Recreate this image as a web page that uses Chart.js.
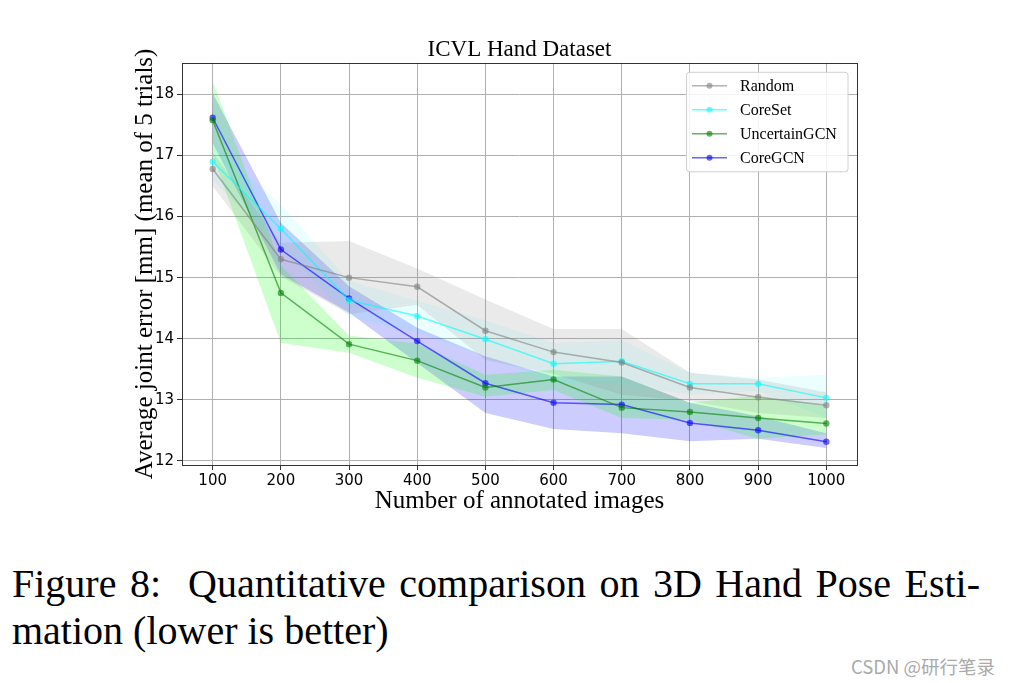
<!DOCTYPE html>
<html><head><meta charset="utf-8">
<script src="https://cdn.jsdelivr.net/npm/chart.js@4.4.1/dist/chart.umd.min.js"></script>
<style>
html,body{margin:0;padding:0;background:#fff;width:1012px;height:683px;overflow:hidden;}
#wrap{position:relative;width:1012px;height:683px;}
canvas{position:absolute;left:0;top:0;}
#cap{position:absolute;left:12px;top:560px;font-family:"Liberation Serif","Times New Roman",serif;font-size:40px;line-height:47px;color:#000;white-space:nowrap;}
#cap .l1{word-spacing:3.5px;}
#wm{position:absolute;right:17px;top:653px;font-family:"Noto Sans CJK SC","Noto Sans",sans-serif;font-size:18.5px;color:#aaaaaa;}
</style></head><body>
<div id="wrap"><canvas id="c" width="1012" height="530"></canvas>
<div id="cap"><span class="l1">Figure 8:&nbsp; Quantitative comparison on 3D Hand Pose Esti-</span><br>mation (lower is better)</div>
<div id="wm">CSDN @研行笔录</div></div>
<script>
const categories = [100, 200, 300, 400, 500, 600, 700, 800, 900, 1000];
const xTicks = [100, 200, 300, 400, 500, 600, 700, 800, 900, 1000];
const yTicks = [12, 13, 14, 15, 16, 17, 18];
const seriesNames = ['Random', 'CoreSet', 'UncertainGCN', 'CoreGCN'];

const randomMean  = [16.78, 15.30, 15.00, 14.85, 14.13, 13.78, 13.61, 13.20, 13.04, 12.91];
const randomUpper = [17.05, 15.57, 15.60, 15.15, 14.64, 14.16, 14.16, 13.44, 13.33, 13.12];
const randomLower = [16.50, 15.02, 14.40, 14.55, 13.65, 13.42, 13.08, 12.98, 12.78, 12.70];

const coresetMean  = [16.90, 15.80, 14.63, 14.37, 13.99, 13.59, 13.63, 13.26, 13.26, 13.03];
const coresetUpper = [17.20, 16.20, 14.95, 14.62, 14.30, 13.93, 13.98, 13.44, 13.36, 13.41];
const coresetLower = [16.60, 15.50, 14.35, 14.10, 13.70, 13.28, 13.25, 13.08, 13.14, 12.70];

const ugcnMean  = [17.58, 14.75, 13.91, 13.64, 13.20, 13.33, 12.87, 12.80, 12.70, 12.61];
const ugcnUpper = [18.22, 15.20, 14.05, 13.92, 13.41, 13.49, 13.38, 12.95, 13.07, 12.89];
const ugcnLower = [17.00, 13.93, 13.77, 13.36, 13.05, 13.16, 12.70, 12.67, 12.36, 12.43];

const cgcnMean  = [17.62, 15.46, 14.66, 13.96, 13.27, 12.95, 12.92, 12.62, 12.50, 12.31];
const cgcnUpper = [18.02, 15.90, 14.86, 14.18, 13.71, 13.38, 13.38, 12.95, 12.73, 12.45];
const cgcnLower = [17.20, 15.05, 14.43, 13.60, 12.78, 12.52, 12.45, 12.32, 12.36, 12.21];

const lineColors = ['rgba(128,128,128,0.6)', 'rgba(0,255,255,0.6)', 'rgba(0,128,0,0.6)', 'rgba(0,0,255,0.6)'];
const bandColors = ['rgba(128,128,128,0.17)', 'rgba(0,255,255,0.08)', 'rgba(0,255,0,0.2)', 'rgba(0,0,255,0.2)'];

const means = [randomMean, coresetMean, ugcnMean, cgcnMean];
const uppers = [randomUpper, coresetUpper, ugcnUpper, cgcnUpper];
const lowers = [randomLower, coresetLower, ugcnLower, cgcnLower];

const pts = arr => categories.map((c, i) => ({x: c, y: arr[i]}));

const datasets = [];
seriesNames.forEach((name, s) => {
  datasets.push({label: name + ' upper', band: true, data: pts(uppers[s]), borderColor: 'transparent', borderWidth: 0, pointRadius: 0, fill: false, order: 2});
  datasets.push({label: name + ' lower', band: true, data: pts(lowers[s]), borderColor: 'transparent', borderWidth: 0, pointRadius: 0, fill: '-1', backgroundColor: bandColors[s], order: 2});
});
seriesNames.forEach((name, s) => {
  datasets.push({label: name, data: pts(means[s]), borderColor: lineColors[s], backgroundColor: lineColors[s],
    borderWidth: 1.5, pointRadius: 3.2, pointBorderWidth: 0, pointBackgroundColor: lineColors[s], fill: false, order: 1, tension: 0});
});

const frame = {
  id: 'frame',
  afterDatasetsDraw(chart) {
    const {ctx, chartArea: a} = chart;
    ctx.save();
    ctx.strokeStyle = '#333';
    ctx.lineWidth = 1;
    ctx.strokeRect(Math.round(a.left) + 0.5, Math.round(a.top) + 0.5, Math.round(a.right - a.left), Math.round(a.bottom - a.top));
    ctx.restore();
  }
};

const innerLegend = {
  id: 'innerLegend',
  afterDraw(chart) {
    const {ctx, chartArea: a} = chart;
    const items = chart.data.datasets.filter(d => !d.band);
    const w = 162, rowH = 24, h = 100;
    const x0 = a.right - 9 - w, y0 = a.top + 9;
    ctx.save();
    ctx.beginPath();
    const r = 3;
    ctx.moveTo(x0 + r, y0 + 0.5);
    ctx.arcTo(x0 + w, y0 + 0.5, x0 + w, y0 + h, r);
    ctx.arcTo(x0 + w, y0 + h, x0, y0 + h, r);
    ctx.arcTo(x0 + 0.5, y0 + h, x0 + 0.5, y0, r);
    ctx.arcTo(x0 + 0.5, y0 + 0.5, x0 + w, y0 + 0.5, r);
    ctx.closePath();
    ctx.fillStyle = 'rgba(255,255,255,0.85)';
    ctx.fill();
    ctx.strokeStyle = '#d0d0d0';
    ctx.lineWidth = 1;
    ctx.stroke();
    ctx.font = '16px "Liberation Serif", "Times New Roman", serif';
    ctx.textBaseline = 'middle';
    items.forEach((d, i) => {
      const cy = y0 + 14 + i * rowH;
      ctx.strokeStyle = d.borderColor;
      ctx.lineWidth = 1.5;
      ctx.beginPath();
      ctx.moveTo(x0 + 6, cy);
      ctx.lineTo(x0 + 41, cy);
      ctx.stroke();
      ctx.fillStyle = d.borderColor;
      ctx.beginPath();
      ctx.arc(x0 + 23.5, cy, 3, 0, Math.PI * 2);
      ctx.fill();
      ctx.fillStyle = '#000';
      ctx.fillText(d.label, x0 + 54, cy + 1);
    });
    ctx.restore();
  }
};

new Chart(document.getElementById('c'), {
  type: 'line',
  data: {datasets},
  plugins: [frame, innerLegend],
  options: {
    responsive: false,
    animation: false,
    devicePixelRatio: 1,
    layout: {padding: {left: 130, right: 155, top: 0, bottom: 13}},
    plugins: {
      legend: {display: false},
      tooltip: {enabled: false},
      title: {display: true, text: 'ICVL Hand Dataset', fullSize: false, color: '#000',
        font: {family: '"Liberation Serif", "Times New Roman", serif', size: 23, weight: 'normal', lineHeight: 1.1},
        padding: {top: 37.5, bottom: 0}}
    },
    scales: {
      x: {
        type: 'linear', min: 55, max: 1045,
        afterBuildTicks: sc => { sc.ticks = xTicks.map(v => ({value: v})); },
        afterFit: sc => { sc.height = 52; },
        ticks: {color: '#000', font: {family: '"DejaVu Sans", sans-serif', size: 15}, padding: 2, maxRotation: 0, autoSkip: false,
          callback: v => String(v)},
        grid: {color: '#b0b0b0', lineWidth: 1, tickLength: 5, tickColor: '#333'},
        border: {display: false},
        title: {display: true, text: 'Number of annotated images', color: '#000',
          font: {family: '"Liberation Serif", "Times New Roman", serif', size: 25, lineHeight: 1.2}, padding: {top: 0, bottom: 1}}
      },
      y: {
        type: 'linear', min: 11.93, max: 18.52,
        afterBuildTicks: sc => { sc.ticks = yTicks.map(v => ({value: v})); },
        afterFit: sc => { sc.width = 52; },
        ticks: {color: '#000', font: {family: '"DejaVu Sans", sans-serif', size: 15}, padding: 3, autoSkip: false,
          callback: v => String(v)},
        grid: {color: '#b0b0b0', lineWidth: 1, tickLength: 5, tickColor: '#333'},
        border: {display: false},
        title: {display: true, text: 'Average joint error [mm] (mean of 5 trials)', color: '#000',
          font: {family: '"Liberation Serif", "Times New Roman", serif', size: 25, lineHeight: 1.2}, padding: {top: 0, bottom: 0}}
      }
    }
  }
});
</script>
</body></html>
